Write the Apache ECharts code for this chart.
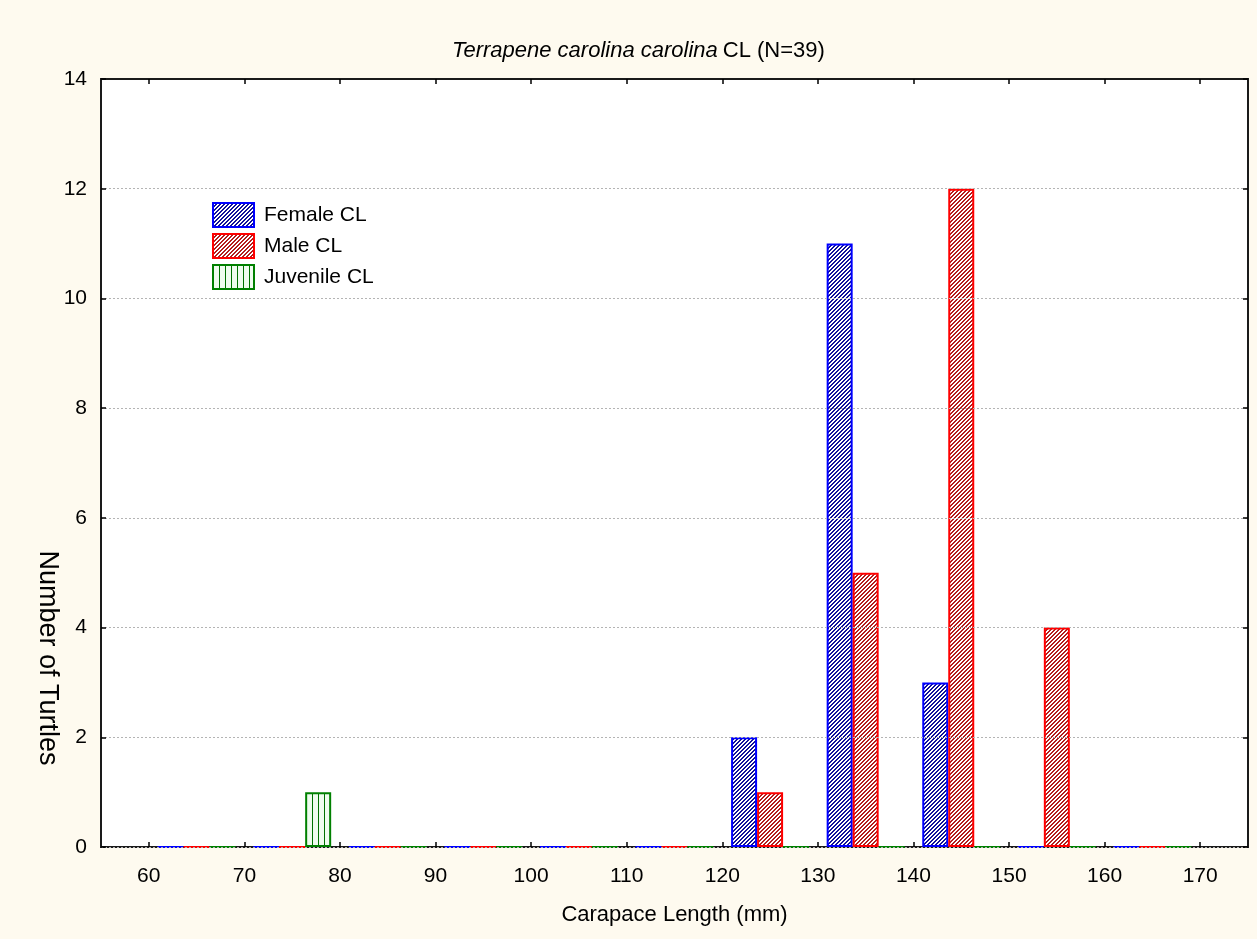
<!DOCTYPE html>
<html>
<head>
<meta charset="utf-8">
<script src="https://cdn.jsdelivr.net/npm/echarts@6/dist/echarts.min.js"></script>
<style>
html,body{margin:0;padding:0;background:#fefaef;}
#c{width:1257px;height:939px;}
</style>
</head>
<body>
<div id="c"></div>
<script>
// ---- data ----
const binStart = [60, 70, 80, 90, 100, 110, 120, 130, 140, 150, 160];
const binWidth = 10;
const femaleCL   = [0, 0, 0, 0, 0, 0, 2, 11, 3, 0, 0];
const maleCL     = [0, 0, 0, 0, 0, 0, 1, 5, 12, 4, 0];
const juvenileCL = [0, 1, 0, 0, 0, 0, 0, 0, 0, 0, 0];
const xTickLabels = [60, 70, 80, 90, 100, 110, 120, 130, 140, 150, 160, 170];
const yTicks = [0, 2, 4, 6, 8, 10, 12, 14];

const FF = "'Liberation Sans', Arial, sans-serif";

// ---- patterns (drawn into a canvas, used as a repeating fill) ----
function makePattern(size, bg, fg, pts){
  const c = document.createElement('canvas');
  c.width = size; c.height = size;
  const g = c.getContext('2d');
  g.fillStyle = bg; g.fillRect(0, 0, size, size);
  g.fillStyle = fg;
  pts.forEach(p => g.fillRect(p[0], p[1], p[2] || 1, p[3] || 1));
  return {image: c, repeat: 'repeat'};
}
const diag2 = [[3,0],[2,1],[1,2],[0,3],[0,0],[3,1],[2,2],[1,3]];
const femalePat = makePattern(4, '#ffffff', '#10109a', diag2);
const malePat = makePattern(4, '#ffffff', '#b41c1c', diag2);
const juvPat = makePattern(6, '#effcef', '#007000', [[0,0,1,6]]);

function pairs(vals){ return vals.map((v, i) => [binStart[i] + binWidth / 2, v]); }

const chart = echarts.init(document.getElementById('c'), null, {renderer: 'canvas'});
const axisLineStyle = {color: '#1a1a1a', width: 2};
const tickStyle = {color: '#000', width: 1.5};

chart.setOption({
  backgroundColor: '#fefaef',
  animation: false,
  textStyle: {fontFamily: FF},
  title: {
    text: '{i|Terrapene carolina carolina} {n|CL (N=39)}',
    left: 452, top: 40, padding: 0,
    textStyle: {
      fontWeight: 'normal',
      rich: {
        i: {fontStyle: 'italic', fontWeight: 'normal', fontSize: 22, fontFamily: FF, color: '#000'},
        n: {fontWeight: 'normal', fontSize: 22, fontFamily: FF, color: '#000'}
      }
    }
  },
  legend: {
    orient: 'vertical', left: 212, top: 202, padding: 0,
    icon: 'rect',
    itemWidth: 41, itemHeight: 24, itemGap: 5,
    textStyle: {fontSize: 21, fontFamily: FF, color: '#000', padding: [0, 0, 0, 5], lineHeight: 24},
    data: ['Female CL', 'Male CL', 'Juvenile CL']
  },
  grid: {
    left: 101, right: 9, top: 79, bottom: 92,
    show: true, backgroundColor: '#ffffff', borderColor: '#1a1a1a', borderWidth: 2
  },
  xAxis: [{
    type: 'value', min: 55, max: 175, position: 'bottom',
    name: 'Carapace Length (mm)', nameLocation: 'middle', nameGap: 57,
    nameTextStyle: {fontSize: 22, fontFamily: FF, color: '#000'},
    axisLine: {show: true, onZero: false, lineStyle: axisLineStyle},
    axisTick: {show: true, inside: true, length: 5, lineStyle: tickStyle, customValues: xTickLabels},
    axisLabel: {show: true, margin: 19, fontSize: 21, fontFamily: FF, color: '#000', customValues: xTickLabels},
    splitLine: {show: false}
  }, {
    type: 'value', min: 55, max: 175, position: 'top', z: 5,
    axisLine: {show: true, onZero: false, lineStyle: axisLineStyle},
    axisTick: {show: true, inside: true, length: 5, lineStyle: tickStyle, customValues: xTickLabels},
    axisLabel: {show: false},
    splitLine: {show: false}
  }],
  yAxis: [{
    type: 'value', min: 0, max: 14, interval: 2, position: 'left', z: 5,
    axisLine: {show: true, onZero: false, lineStyle: axisLineStyle},
    axisTick: {show: true, inside: true, length: 5, lineStyle: tickStyle},
    axisLabel: {margin: 14, fontSize: 21, fontFamily: FF, color: '#000', customValues: yTicks},
    splitLine: {show: true, lineStyle: {color: '#b4b4b4', width: 1, type: [2, 2]}}
  }, {
    type: 'value', min: 0, max: 14, interval: 2, position: 'right', z: 5,
    axisLine: {show: true, onZero: false, lineStyle: axisLineStyle},
    axisTick: {show: true, inside: true, length: 5, lineStyle: tickStyle},
    axisLabel: {show: false},
    splitLine: {show: false}
  }],
  graphic: [{
    type: 'text', x: 47, y: 658, rotation: -Math.PI / 2,
    style: {text: 'Number of Turtles', font: '27px ' + FF, fill: '#000', align: 'center', verticalAlign: 'middle'}
  }],
  series: [{
    name: 'Female CL', type: 'bar', xAxisIndex: 0, yAxisIndex: 0,
    barWidth: 26, barGap: '0%',
    itemStyle: {color: femalePat, borderColor: '#0000ff', borderWidth: 2},
    data: pairs(femaleCL)
  }, {
    name: 'Male CL', type: 'bar', xAxisIndex: 0, yAxisIndex: 0,
    barWidth: 26, barGap: '0%',
    itemStyle: {color: malePat, borderColor: '#ff0000', borderWidth: 2},
    data: pairs(maleCL)
  }, {
    name: 'Juvenile CL', type: 'bar', xAxisIndex: 0, yAxisIndex: 0,
    barWidth: 26, barGap: '0%',
    itemStyle: {color: juvPat, borderColor: '#008000', borderWidth: 2},
    data: pairs(juvenileCL)
  }]
});
</script>
</body>
</html>
